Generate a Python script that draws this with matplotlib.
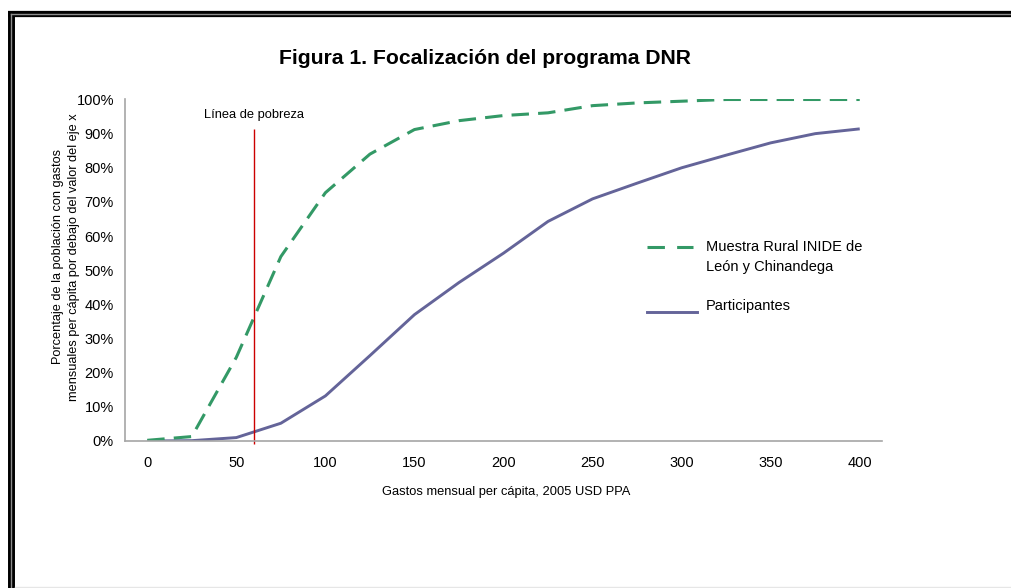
import matplotlib
matplotlib.use("Agg")
import matplotlib.pyplot as plt
from matplotlib.lines import Line2D
from matplotlib.ticker import FuncFormatter

plt.rcParams['font.family'] = ['Liberation Sans', 'DejaVu Sans']

# datos (gasto mensual per cápita, % acumulado)
gastos = [0, 25, 50, 75, 100, 125, 150, 175, 200, 225, 250, 275, 300, 325, 350, 375, 400]
muestra_inide = [0.2, 1.3, 24.5, 54.0, 72.7, 84.0, 91.2, 93.8, 95.3, 96.1, 98.2, 99.0, 99.5, 100, 100, 100, 100]
participantes = [0, 0.1, 1.0, 5.2, 13.2, 25.0, 37.0, 46.4, 55.0, 64.3, 70.9, 75.5, 80.0, 83.7, 87.3, 90.0, 91.4]
linea_pobreza = 60
linea_pobreza_top = 91.5
x_ticks = [0, 50, 100, 150, 200, 250, 300, 350, 400]
y_ticks = [0, 10, 20, 30, 40, 50, 60, 70, 80, 90, 100]

VERDE = '#339966'
MORADO = '#646499'
ROJO = '#cc0000'
GRIS = '#a6a6a6'

W, H = 1012, 588
fig = plt.figure(figsize=(W / 100, H / 100), dpi=100)


# pixel -> coordenadas de figura
def fx(px):
    return px / W


def fy(py):
    return 1 - py / H


ax = fig.add_axes([fx(125), fy(441), fx(882) - fx(125), fy(99.5) - fy(441)])

ax.plot(gastos, participantes, color=MORADO, lw=2.1, solid_capstyle='butt')
ax.plot(gastos, muestra_inide, color=VERDE, lw=2.2, dashes=(5.7, 3.0))
ax.vlines(linea_pobreza, -1, linea_pobreza_top, color=ROJO, lw=1.0, clip_on=False)
ax.text(linea_pobreza, 95.5, 'Línea de pobreza', ha='center', va='center', fontsize=9.3)

ax.set_xlim(-12.5, 412.5)
ax.set_ylim(0, 100)
ax.set_xticks(x_ticks)
ax.set_yticks(y_ticks)
ax.yaxis.set_major_formatter(FuncFormatter(lambda v, p: '%d%%' % v))
ax.tick_params(length=0, labelsize=10.5)
ax.tick_params(axis='y', pad=8)
ax.tick_params(axis='x', pad=11)
for s in ['top', 'right']:
    ax.spines[s].set_visible(False)
for s in ['left', 'bottom']:
    ax.spines[s].set_color(GRIS)
    ax.spines[s].set_linewidth(1.2)

# títulos
fig.text(fx(485.5), fy(59), 'Figura 1. Focalización del programa DNR',
         ha='center', va='center', fontsize=15.2, fontweight='bold')
fig.text(fx(506), fy(492), 'Gastos mensual per cápita, 2005 USD PPA',
         ha='center', va='center', fontsize=9.3)
fig.text(fx(66), fy(257),
         'Porcentaje de la población con gastos\nmensuales per cápita por debajo del valor del eje x',
         ha='center', va='center', rotation=90, fontsize=9.2, multialignment='center',
         linespacing=1.35)

# leyenda dibujada a mano
fig.add_artist(Line2D([fx(647), fx(693)], [fy(247), fy(247)], color=VERDE, lw=2.2,
                      dashes=(5.7, 4.0)))
fig.text(fx(706), fy(247), 'Muestra Rural INIDE de', ha='left', va='center', fontsize=10.5)
fig.text(fx(706), fy(267), 'León y Chinandega', ha='left', va='center', fontsize=10.5)
fig.add_artist(Line2D([fx(647), fx(697)], [fy(312), fy(312)], color=MORADO, lw=2.1))
fig.text(fx(706), fy(306), 'Participantes', ha='left', va='center', fontsize=10.5)

# marco doble
fig.add_artist(Line2D([fx(11.5), fx(11.5)], [fy(11), fy(600)], color='black', lw=5.0,
                      solid_capstyle='butt'))
fig.add_artist(Line2D([fx(8), fx(1100)], [fy(14), fy(14)], color='black', lw=4.5,
                      solid_capstyle='butt'))
fig.add_artist(Line2D([fx(11.5), fx(11.5)], [fy(14), fy(600)], color='#8c8c8c', lw=1.0))
fig.add_artist(Line2D([fx(11.5), fx(1100)], [fy(14), fy(14)], color='#8c8c8c', lw=1.0))
fig.add_artist(Line2D([fx(15), fx(1100)], [fy(587), fy(587)], color='#e6e6e6', lw=1.0))

fig.savefig('out.png', dpi=100)
